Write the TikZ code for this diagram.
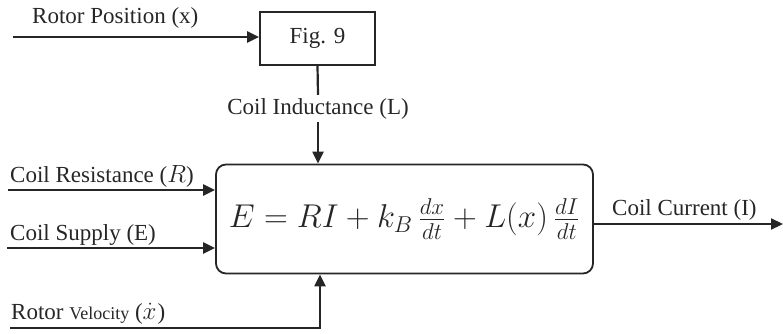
\documentclass[tikz,border=0pt]{standalone}
\usepackage{fontspec}
\setmainfont{Liberation Serif}
\usepackage{graphicx}
\usetikzlibrary{arrows.meta}
\begin{document}
\begin{tikzpicture}[x=1pt,y=-1pt,
  every node/.style={font=\fontsize{23}{26}\selectfont, text=black!85},
  arr/.style={line width=2.2pt, draw=black!85, -{Triangle[length=12pt,width=11pt]}},
  plain/.style={line width=2.2pt, draw=black!85},
  boxst/.style={draw=black!85, line width=1.8pt}]
\useasboundingbox (0,0) rectangle (783,334);
% blocks
\node[boxst, minimum width=115pt, minimum height=53pt, inner sep=0pt] (fig) at (317.5,38.5) {Fig. 9};
\node[boxst, rounded corners=10pt, minimum width=377pt, minimum height=109pt, inner sep=0pt] (eq) at (404.5,219)
  {\resizebox{351pt}{!}{$E = RI + k_B\,\frac{dx}{dt} + L(x)\,\frac{dI}{dt}$}};
% inductance label
\node[inner sep=0pt, minimum height=27pt] (lind) at (318,108.5) {Coil Inductance (L)};
% labels
\node[anchor=base west, inner sep=0pt] (lpos) at (32,24) {Rotor Position (x)};
\node[anchor=base west, inner sep=0pt] (lres) at (10,182) {Coil Resistance ($R$)};
\node[anchor=base west, inner sep=0pt] (lsup) at (10,240) {Coil Supply (E)};
\node[anchor=base west, inner sep=0pt] (lvel) at (11,319) {Rotor {\fontsize{18}{20}\selectfont Velocity} ($\dot{x}$\kern1pt)};
\node[anchor=base west, inner sep=0pt] (lcur) at (612,215) {Coil Current (I)};
% free ends
\coordinate (pin) at (13,37);
\coordinate (rin) at (8,190);
\coordinate (ein) at (7,248);
\coordinate (vin) at (10,328);
\coordinate (iout) at (783,224);
% connectors
\draw[arr] (pin) -- (pin -| fig.west);
\draw[plain] (fig.south) -- (lind.north);
\draw[arr] (lind.south) -- (lind.south |- eq.north);
\draw[arr] (rin) -- (rin -| eq.west);
\draw[arr] (ein) -- (ein -| eq.west);
\draw[arr] (vin) -| ([xshift=-84.5pt]eq.south);
\draw[arr] (eq.east |- iout) -- (iout);
\end{tikzpicture}
\end{document}
